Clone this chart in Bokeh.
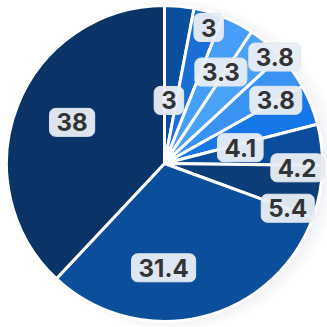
import numpy as np
from bokeh.plotting import figure
from bokeh.models import ColumnDataSource
from bokeh.core.properties import value
from bokeh.embed import file_html
from bokeh.resources import INLINE

# data (clockwise from 12 o'clock)
values = [3, 3, 3.3, 3.8, 3.8, 4.1, 4.2, 5.4, 31.4, 38]
labels = ["3", "3", "3.3", "3.8", "3.8", "4.1", "4.2", "5.4", "31.4", "38"]
colors = ["#0a4f9e", "#1a6fd6", "#459ff8", "#4aa2f6", "#3a93f2", "#1677e8",
          "#0b4d9c", "#0c3d78", "#0b4f9c", "#0a3468"]
# label placement styling (radius fraction, angular shift in degrees)
label_r = [0.40, 0.905, 0.68, 0.97, 0.81, 0.49, 0.84, 0.83, 0.66, 0.64]
label_shift = [-1.4, 1.8, 4.1, 5.7, 6.4, 10, 8.7, 9.5, 13.8, 2.4]

vals = np.array(values, dtype=float)
frac = vals / vals.sum()
cum = np.concatenate([[0], np.cumsum(frac)]) * 2 * np.pi
start = np.pi / 2 - cum[:-1]
end = np.pi / 2 - cum[1:]
mid_clock = np.degrees((cum[:-1] + cum[1:]) / 2) + np.array(label_shift)
lr = np.array(label_r)
lx = lr * np.sin(np.radians(mid_clock))
ly = lr * np.cos(np.radians(mid_clock))

src = ColumnDataSource(dict(start=start, end=end, color=colors,
                            lx=lx, ly=ly, label=labels))

W = H = 327
R = 158.0
cx, cy = 164.0, 163.0
p = figure(width=W, height=H, output_backend="svg", toolbar_location=None,
           x_range=(-cx / R, (W - cx) / R), y_range=(-(H - cy) / R, cy / R),
           min_border=0)
p.axis.visible = False
p.grid.visible = False
p.outline_line_color = None
p.background_fill_color = "white"
p.border_fill_color = "white"

# soft shadow
for k, a in enumerate([0.025, 0.025, 0.025, 0.025]):
    p.circle(x=0.03 + 0.01 * k, y=-0.01, radius=1.0 + 0.015 * k,
             fill_color="#8090a8", fill_alpha=a, line_color=None)

p.wedge(x=0, y=0, radius=1.0, start_angle="start", end_angle="end",
        direction="clock", fill_color="color", line_color="white",
        line_width=3, source=src)

p.text(x="lx", y="ly", text="label", source=src,
       text_font=value("Inter"), text_font_style="bold",
       text_font_size="24px", text_color="#333333",
       text_align="center", text_baseline="middle",
       background_fill_color="#e9eef5", background_fill_alpha=0.95,
       border_line_color="#dfe6ee", border_line_width=1,
       border_radius=6, padding=(7, 7, 5, 5))

open("out.html", "w").write(file_html(p, INLINE))
